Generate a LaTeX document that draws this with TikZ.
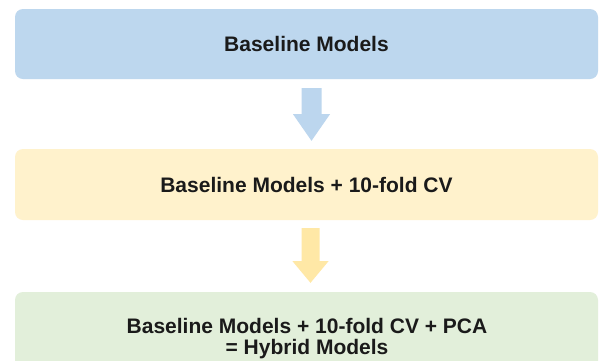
\documentclass[tikz,border=0pt]{standalone}
\usepackage{fontspec}
\setmainfont{Liberation Sans}
\usetikzlibrary{calc}
\definecolor{bluebox}{HTML}{BDD7EE}
\definecolor{bluearrow}{HTML}{BCD6EE}
\definecolor{yellowbox}{HTML}{FFF2CC}
\definecolor{yellowarrow}{HTML}{FFE8A6}
\definecolor{greenbox}{HTML}{E2EFDA}
\definecolor{txt}{HTML}{1A1A1A}
\begin{document}
\begin{tikzpicture}[x=1pt,y=1pt,
  stagebox/.style={rounded corners=8pt, minimum width=583pt, inner sep=0pt,
    align=center, text=txt, font=\bfseries\fontsize{21}{22}\selectfont},
  blockarrow/.style={draw=none}]
\useasboundingbox (0,0) rectangle (603,-360);
\clip (0,0) rectangle (603,-360);
\fill[white] (0,0) rectangle (603,-360);
\node[stagebox, fill=bluebox, minimum height=70pt] (b1) at (306.5,-44) {Baseline Models};
\node[stagebox, fill=yellowbox, minimum height=71pt] (b2) at (306.5,-184.5) {Baseline Models + 10-fold CV};
\node[stagebox, fill=greenbox, minimum height=94pt] (b3) at (306.5,-339) {};
\node[text=txt, font=\bfseries\fontsize{21}{21.5}\selectfont, align=center, inner sep=0pt] (t3) at (307,-338.5) {Baseline Models + 10-fold CV + PCA\\= Hybrid Models};
% arrow 1
\coordinate (a1) at ($(b1.south)+(5,-9)$);
\fill[bluearrow] ($(a1)+(-10,0)$) -- ($(a1)+(10,0)$) -- ($(a1)+(10,-26)$) -- ($(a1)+(18.5,-26)$)
  -- ($(b2.north)+(5,8)$) -- ($(a1)+(-18.5,-26)$) -- ($(a1)+(-10,-26)$) -- cycle;
% arrow 2
\coordinate (a2) at ($(b2.south)+(4,-8)$);
\fill[yellowarrow] ($(a2)+(-9,0)$) -- ($(a2)+(9,0)$) -- ($(a2)+(9,-33)$) -- ($(a2)+(18,-33)$)
  -- ($(b3.north)+(4,9)$) -- ($(a2)+(-18,-33)$) -- ($(a2)+(-9,-33)$) -- cycle;
\end{tikzpicture}
\end{document}
